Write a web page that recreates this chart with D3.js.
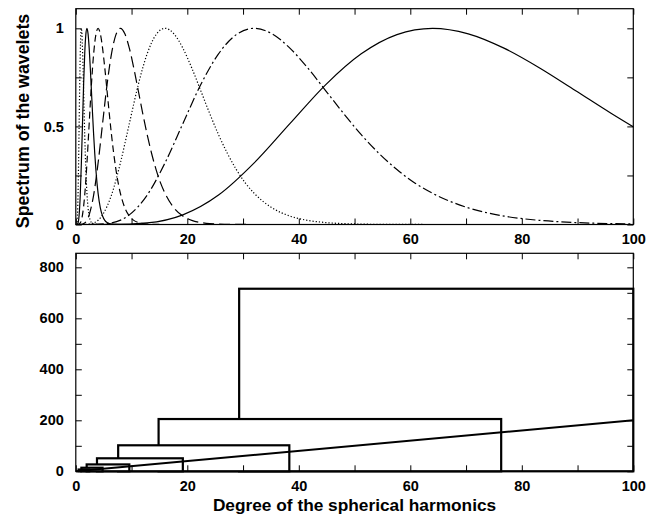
<!DOCTYPE html>
<html>
<head>
<meta charset="utf-8">
<script src="https://cdn.jsdelivr.net/npm/d3@7"></script>
<style>
  body { margin: 0; background: #fff; }
  svg { display: block; font-family: "Liberation Sans", Arial, Helvetica, sans-serif; font-weight: bold; }
  .tick text { font-size: 14.5px; font-weight: bold; fill: #000; }
  .tick line { stroke: #000; stroke-width: 1; }
</style>
</head>
<body>
<svg id="chart" width="662" height="521"></svg>
<script>
// peak degree of each wavelet (top panel)
var peakDegrees = [1, 2, 4, 8, 16, 32, 64];
// common wavelet profile: degree / peak degree -> spectrum
var profileRatio = [0, 0.1, 0.2, 0.3, 0.4, 0.5, 0.6, 0.7, 0.8, 0.9, 1.0,
  1.1, 1.2, 1.3, 1.4, 1.5, 1.6, 1.7, 1.8, 1.9, 2.0,
  2.2, 2.4, 2.6, 2.8, 3.0, 3.5, 4.0, 8.0, 120];
var profileValue = [0, 0.0002, 0.008, 0.049, 0.150, 0.314, 0.514, 0.712, 0.870, 0.968, 1.0,
  0.972, 0.899, 0.798, 0.683, 0.567, 0.458, 0.362, 0.280, 0.212, 0.159,
  0.085, 0.043, 0.021, 0.010, 0.0045, 0.0006, 0.0001, 0, 0];

// bottom panel: band limits of each wavelet and heights
var bandLow = [29.3, 14.85, 7.6, 3.8, 1.95, 1.0, 0.5];
var bandHigh = [100, 76.3, 38.3, 19.2, 9.6, 4.8, 2.4];
var bandHeight = [716, 205, 102, 51, 27, 14, 7];
// straight reference line
var lineDegree = [0, 100];
var lineValue = [0, 200];

var xTicks = d3.range(0, 101, 10);
var topYTicks = [0, 0.25, 0.5, 0.75, 1];
var topYLabels = [0, 0.5, 1];
var botYTicks = d3.range(0, 801, 100);

var svg = d3.select("#chart");
var left = 75.8, right = 633.3;

var x = d3.scaleLinear().domain([0, 100]).range([left, right]);
var yTop = d3.scaleLinear().domain([0, 1.1]).range([224.5, 8.7]);
var yBot = d3.scaleLinear().domain([0, 855]).range([471.3, 253.3]);

var dashes = ["1.2,2", null, "7,4", "11,5", "1.2,2", "10,3,2,3", null];

function drawAxes(y, yTicks, labelFn, showXLabels) {
  var g = svg.append("g");
  var y0 = y.range()[0], y1 = y.range()[1];
  g.append("g").attr("transform", "translate(0," + y0 + ")")
    .call(d3.axisBottom(x).tickValues(xTicks).tickSizeInner(-6).tickSizeOuter(0).tickPadding(9)
      .tickFormat(function (d) { return (showXLabels && d % 20 === 0) ? d : ""; }));
  g.append("g").attr("transform", "translate(0," + y1 + ")")
    .call(d3.axisTop(x).tickValues(xTicks).tickSizeInner(-6).tickSizeOuter(0).tickFormat(""));
  g.append("g").attr("transform", "translate(" + left + ",0)")
    .call(d3.axisLeft(y).tickValues(yTicks).tickSizeInner(-6).tickSizeOuter(0).tickPadding(12)
      .tickFormat(labelFn));
  g.append("g").attr("transform", "translate(" + right + ",0)")
    .call(d3.axisRight(y).tickValues(yTicks).tickSizeInner(-6).tickSizeOuter(0).tickFormat(""));
  g.selectAll(".domain").remove();
  g.append("rect")
    .attr("x", left).attr("y", y1)
    .attr("width", right - left).attr("height", y0 - y1)
    .attr("fill", "none").attr("stroke", "#000").attr("stroke-width", 1.2);
}

// top panel
svg.append("clipPath").attr("id", "clipTop").append("rect")
  .attr("x", left).attr("y", yTop(1.1)).attr("width", right - left).attr("height", yTop(0) - yTop(1.1));

var line = d3.line()
  .x(function (d) { return x(d[0]); })
  .y(function (d) { return yTop(d[1]); })
  .curve(d3.curveMonotoneX);

var curves = svg.append("g").attr("clip-path", "url(#clipTop)");
peakDegrees.forEach(function (L, i) {
  var pts = profileRatio.map(function (r, k) { return [r * L, profileValue[k]]; });
  curves.append("path")
    .attr("d", line(pts))
    .attr("fill", "none")
    .attr("stroke", "#000")
    .attr("stroke-width", 1.2)
    .attr("stroke-dasharray", dashes[i]);
});

drawAxes(yTop, topYTicks, function (d) { return topYLabels.indexOf(d) >= 0 ? d : ""; }, true);

svg.append("text")
  .attr("transform", "translate(29," + 121 + ") rotate(-90)")
  .attr("text-anchor", "middle")
  .style("font-size", "17.8px")
  .text("Spectrum of the wavelets");

// bottom panel
var bands = svg.append("g");
bandLow.forEach(function (lo, i) {
  bands.append("rect")
    .attr("x", x(lo)).attr("y", yBot(bandHeight[i]))
    .attr("width", x(bandHigh[i]) - x(lo))
    .attr("height", yBot(0) - yBot(bandHeight[i]))
    .attr("fill", "#fff").attr("stroke", "#000").attr("stroke-width", 2.2);
});

svg.append("path")
  .attr("d", d3.line()
    .x(function (d) { return x(d); })
    .y(function (d, i) { return yBot(lineValue[i]); })(lineDegree))
  .attr("fill", "none").attr("stroke", "#000").attr("stroke-width", 2);

drawAxes(yBot, botYTicks, function (d) { return d % 200 === 0 ? d : ""; }, true);

svg.append("text")
  .attr("x", (left + right) / 2).attr("y", 511)
  .attr("text-anchor", "middle")
  .style("font-size", "17.3px")
  .text("Degree of the spherical harmonics");
</script>
</body>
</html>
